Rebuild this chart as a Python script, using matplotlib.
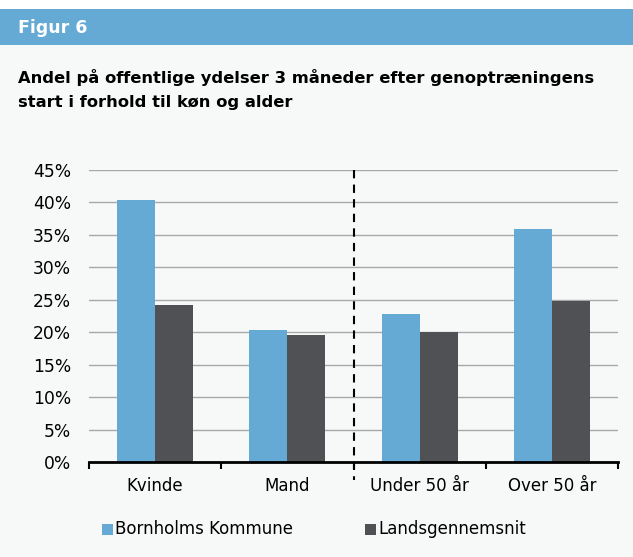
import numpy as np
import matplotlib.pyplot as plt
from matplotlib.patches import Rectangle

plt.rcParams['font.family'] = ['DejaVu Sans']

# Data
categories = ["Kvinde", "Mand", "Under 50 år", "Over 50 år"]
series = ["Bornholms Kommune", "Landsgennemsnit"]
bornholm = [40.3, 20.3, 22.8, 35.9]
landsgns = [24.2, 19.6, 20.0, 24.8]
yticks = [0, 5, 10, 15, 20, 25, 30, 35, 40, 45]

BLUE = "#64aad5"
GRAY = "#505155"
BG = "#f7f9f9"

W, H = 633, 557
fig = plt.figure(figsize=(W / 100, H / 100), dpi=100)
fig.patch.set_facecolor(BG)

# header band
fig.patches.append(Rectangle((0, 1 - 9 / H), 1, 9 / H, transform=fig.transFigure,
                             facecolor="white", edgecolor="none", zorder=0))
fig.patches.append(Rectangle((0, 1 - 45 / H), 1, 36 / H, transform=fig.transFigure,
                             facecolor=BLUE, edgecolor="none", zorder=0))
fig.text(18 / W, 1 - 28 / H, "Figur 6", color="white", fontsize=12.5,
         fontweight="bold", va="center", ha="left")
fig.text(18 / W, 1 - 77 / H, "Andel på offentlige ydelser 3 måneder efter genoptræningens",
         fontsize=11.8, fontweight="bold", va="center", ha="left")
fig.text(18 / W, 1 - 102 / H, "start i forhold til køn og alder",
         fontsize=11.8, fontweight="bold", va="center", ha="left")

# axes: x 89..618, y 170..462
ax = fig.add_axes([89 / W, 1 - 462 / H, (618 - 89) / W, (462 - 170) / H])
ax.set_facecolor(BG)

x = np.arange(len(categories))
bw = 0.287
ax.bar(x - bw / 2, bornholm, bw, color=BLUE, zorder=3)
ax.bar(x + bw / 2, landsgns, bw, color=GRAY, zorder=3)

ax.set_xlim(-0.5, len(categories) - 0.5)
ax.set_ylim(0, 45)
ax.set_yticks(yticks)
ax.set_yticklabels([f"{v}%" for v in yticks], fontsize=12.3)
ax.yaxis.grid(True, color="#a8a8a8", linewidth=1, zorder=0)
ax.tick_params(axis="y", length=0, pad=13)

ax.set_xticks(x)
ax.set_xticklabels(categories, fontsize=12)
ax.tick_params(axis="x", length=0, pad=11)
ax.set_xticks(np.arange(-0.5, len(categories)), minor=True)
ax.tick_params(axis="x", which="minor", length=5, width=1.5, direction="out", color="black")

for s in ["top", "right", "left"]:
    ax.spines[s].set_visible(False)
ax.spines["bottom"].set_linewidth(2)
ax.spines["bottom"].set_zorder(4)

# dashed separator between sex and age groups
ax.plot([1.5, 1.5], [45, -2.8], color="black", linestyle=(0, (4, 3)),
        linewidth=1.5, clip_on=False, zorder=5)

# legend
for name, col, x0 in zip(series, [BLUE, GRAY], [102, 365]):
    fig.patches.append(Rectangle((x0 / W, 1 - 535 / H), 11 / W, 11 / H,
                                 transform=fig.transFigure, facecolor=col,
                                 edgecolor="none"))
    fig.text((x0 + 13) / W, 1 - 529 / H, name, fontsize=12, va="center", ha="left")

fig.savefig("out.png", dpi=100, facecolor=fig.get_facecolor())
